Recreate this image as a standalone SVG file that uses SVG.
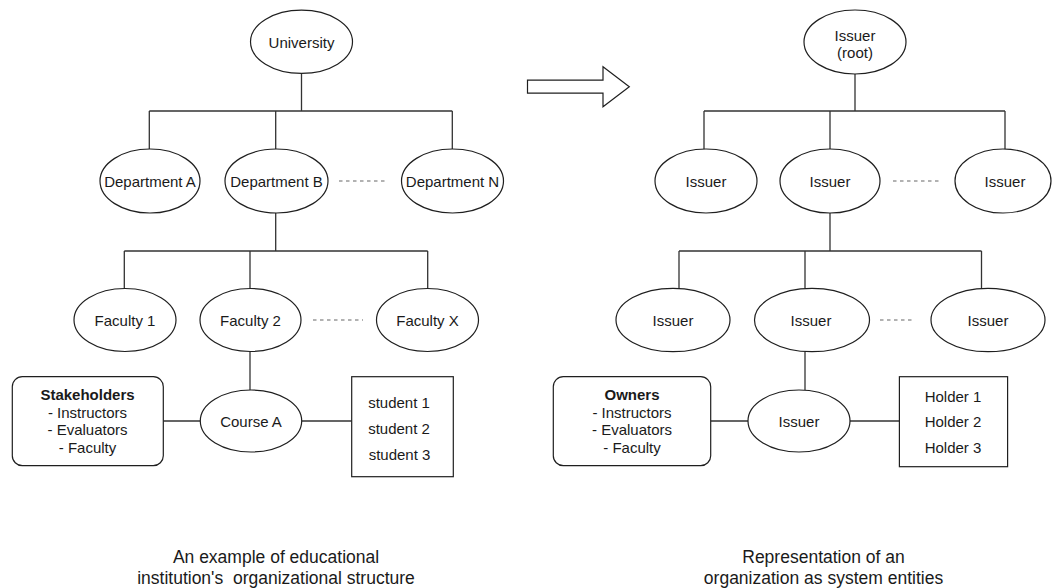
<svg xmlns="http://www.w3.org/2000/svg" width="1052" height="588" viewBox="0 0 1052 588">
  <style>
    .node { fill: #ffffff; stroke: #1f1f1f; stroke-width: 1.2; }
    .link { fill: none; stroke: #333333; stroke-width: 1.3; }
    .dots { fill: none; stroke: #666666; stroke-width: 1.2; stroke-dasharray: 3.5 3.5; }
    .lbl { font-family: "Liberation Sans", Arial, Helvetica, sans-serif; font-size: 15px; fill: #1a1a1a; text-anchor: middle; }
    .bold { font-weight: bold; }
    .cap { font-family: "Liberation Sans", Arial, Helvetica, sans-serif; font-size: 17.5px; fill: #1a1a1a; text-anchor: middle; white-space: pre; }
  </style>
  <rect width="1052" height="588" fill="#ffffff"/>

  <!-- connectors -->
  <g id="connectors">
    <!-- university tree -->
    <path class="link" d="M301.5 73.5 V111 M149.3 111 H452.3 M149.3 111 V149 M275.7 111 V149 M452.3 111 V149"/>
    <path class="link" d="M275.7 213 V251 M124.3 251 H427.7 M124.3 251 V288.5 M250 251 V288.5 M427.7 251 V288.5"/>
    <path class="link" d="M250 351.5 V390"/>
    <path class="link" d="M163.3 421 H200 M301.7 421 H351.7"/>
    <line class="dots" x1="339" y1="181" x2="388" y2="181"/>
    <line class="dots" x1="313" y1="320" x2="363" y2="320"/>
    <!-- issuer tree -->
    <path class="link" d="M855 74 V111 M704 111 H1005 M704 111 V149.5 M830 111 V149.5 M1005 111 V149.5"/>
    <path class="link" d="M830 213 V251 M679 251 H981.5 M679 251 V288.5 M805 251 V288.5 M981.5 251 V288.5"/>
    <path class="link" d="M805 351.5 V390"/>
    <path class="link" d="M710.7 421 H748 M850 421 H899.4"/>
    <line class="dots" x1="893" y1="181" x2="942" y2="181"/>
    <line class="dots" x1="880" y1="320" x2="915" y2="320"/>
  </g>

  <!-- block arrow between the two trees -->
  <g id="transform-arrow">
    <polygon class="node" points="527.5,80.2 603,80.2 603,66.7 629.3,86.7 603,106.7 603,93.2 527.5,93.2"/>
  </g>

  <!-- educational institution -->
  <g id="university">
    <ellipse class="node" cx="301.5" cy="41.8" rx="51" ry="31.6"/>
    <text class="lbl" x="301.5" y="48">University</text>
  </g>
  <g id="department-a">
    <ellipse class="node" cx="150" cy="181" rx="50" ry="32"/>
    <text class="lbl" x="150" y="187">Department A</text>
  </g>
  <g id="department-b">
    <ellipse class="node" cx="276.5" cy="181" rx="51.5" ry="32"/>
    <text class="lbl" x="276.5" y="187">Department B</text>
  </g>
  <g id="department-n">
    <ellipse class="node" cx="452.5" cy="181" rx="51" ry="32"/>
    <text class="lbl" x="452.5" y="187">Department N</text>
  </g>
  <g id="faculty-1">
    <ellipse class="node" cx="125" cy="320" rx="51" ry="31.5"/>
    <text class="lbl" x="125" y="326">Faculty 1</text>
  </g>
  <g id="faculty-2">
    <ellipse class="node" cx="250.5" cy="320" rx="50.5" ry="31.5"/>
    <text class="lbl" x="250.5" y="326">Faculty 2</text>
  </g>
  <g id="faculty-x">
    <ellipse class="node" cx="427.5" cy="320" rx="51" ry="31.5"/>
    <text class="lbl" x="427.5" y="326">Faculty X</text>
  </g>
  <g id="course-a">
    <ellipse class="node" cx="251" cy="421" rx="50.7" ry="31"/>
    <text class="lbl" x="251" y="427">Course A</text>
  </g>
  <g id="stakeholders">
    <rect class="node" x="12.3" y="376.7" width="151" height="89" rx="10" ry="10"/>
    <text class="lbl bold" x="87.5" y="400">Stakeholders</text>
    <text class="lbl" x="87.5" y="417.7">- Instructors</text>
    <text class="lbl" x="87.5" y="435.4">- Evaluators</text>
    <text class="lbl" x="87.5" y="453.1">- Faculty</text>
  </g>
  <g id="students">
    <rect class="node" x="351.7" y="376.7" width="101.6" height="100"/>
    <text class="lbl" x="399" y="408.3">student 1</text>
    <text class="lbl" x="399" y="434">student 2</text>
    <text class="lbl" x="399.5" y="459.5">student 3</text>
  </g>

  <!-- system entities -->
  <g id="issuer-root">
    <ellipse class="node" cx="855" cy="42" rx="51" ry="32"/>
    <text class="lbl" x="855" y="40.5">Issuer</text>
    <text class="lbl" x="855" y="57.8">(root)</text>
  </g>
  <g id="issuer-l1-a">
    <ellipse class="node" cx="706" cy="181" rx="51" ry="32"/>
    <text class="lbl" x="706" y="187">Issuer</text>
  </g>
  <g id="issuer-l1-b">
    <ellipse class="node" cx="830" cy="181" rx="50" ry="32"/>
    <text class="lbl" x="830" y="187">Issuer</text>
  </g>
  <g id="issuer-l1-n">
    <ellipse class="node" cx="1003" cy="181" rx="48" ry="32"/>
    <text class="lbl" x="1005" y="187">Issuer</text>
  </g>
  <g id="issuer-l2-a">
    <ellipse class="node" cx="673" cy="320" rx="57" ry="31.7"/>
    <text class="lbl" x="673" y="326">Issuer</text>
  </g>
  <g id="issuer-l2-b">
    <ellipse class="node" cx="812" cy="320" rx="57.5" ry="31.7"/>
    <text class="lbl" x="811" y="326">Issuer</text>
  </g>
  <g id="issuer-l2-x">
    <ellipse class="node" cx="988" cy="320" rx="57" ry="31.7"/>
    <text class="lbl" x="988" y="326">Issuer</text>
  </g>
  <g id="issuer-course">
    <ellipse class="node" cx="799" cy="421" rx="51" ry="31"/>
    <text class="lbl" x="799" y="427">Issuer</text>
  </g>
  <g id="owners">
    <rect class="node" x="553.3" y="376.7" width="157.4" height="89" rx="10" ry="10"/>
    <text class="lbl bold" x="632" y="400">Owners</text>
    <text class="lbl" x="632" y="417.7">- Instructors</text>
    <text class="lbl" x="632" y="435.4">- Evaluators</text>
    <text class="lbl" x="632" y="453.1">- Faculty</text>
  </g>
  <g id="holders">
    <rect class="node" x="899.4" y="376.7" width="108.2" height="90"/>
    <text class="lbl" x="953" y="401.7">Holder 1</text>
    <text class="lbl" x="953" y="427.3">Holder 2</text>
    <text class="lbl" x="953" y="453.3">Holder 3</text>
  </g>

  <!-- captions -->
  <g id="caption-left">
    <text class="cap" x="276" y="563.3">An example of educational</text>
    <text class="cap" x="276" y="583.5">institution's  organizational structure</text>
  </g>
  <g id="caption-right">
    <text class="cap" x="823.5" y="563.3">Representation of an</text>
    <text class="cap" x="823.5" y="583.5">organization as system entities</text>
  </g>
</svg>
